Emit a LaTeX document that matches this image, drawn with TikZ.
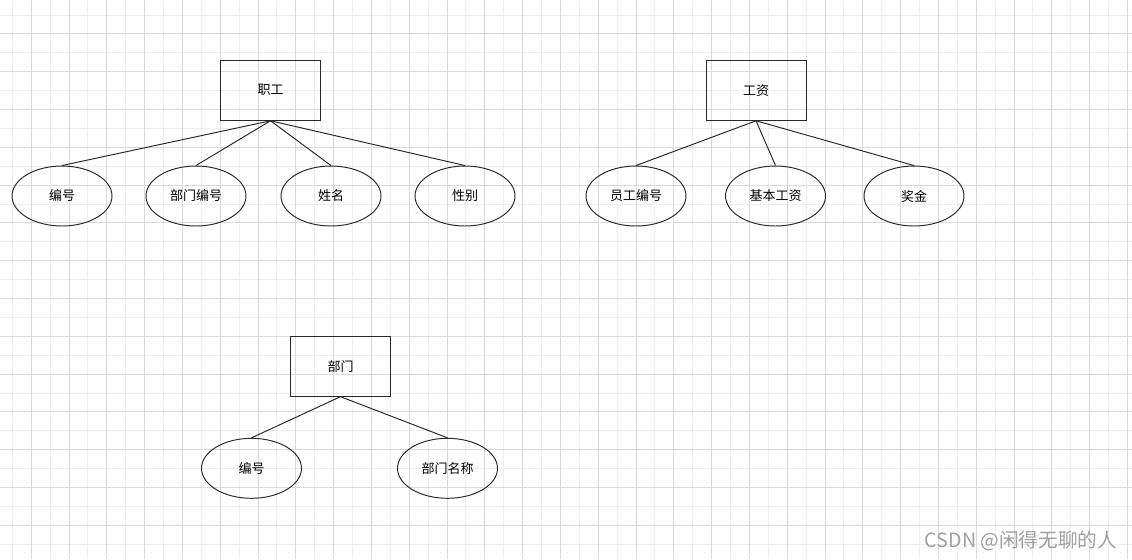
\documentclass[tikz,border=0pt]{standalone}
\usepackage{fontspec}
\usepackage{tikz}
\usetikzlibrary{shapes.geometric}
\newfontfamily\cjk{Noto Sans CJK SC}
\definecolor{gridminor}{RGB}{238,238,238}
\definecolor{gridmajor}{RGB}{218,218,218}
\definecolor{markgray}{RGB}{160,160,160}
\definecolor{inkline}{RGB}{40,40,40}

\begin{document}
\begin{tikzpicture}[x=0.02cm,y=-0.02cm,
  entity/.style={draw=inkline,rectangle,line width=0.55pt,minimum width=2cm,minimum height=1.2cm,inner sep=0pt,font=\cjk\fontsize{7.4}{9}\selectfont},
  attr/.style={draw=inkline,ellipse,line width=0.55pt,minimum width=2cm,minimum height=1.2cm,inner sep=0pt,font=\cjk\fontsize{7.4}{9}\selectfont},
  link/.style={draw=inkline,line width=0.55pt}]

\useasboundingbox[fill=white] (0,0) rectangle (1132,559);

% grid
\foreach \i in {0,2,...,58} {
  \draw[gridminor,line width=0.5pt] ({12.3+18.9*\i},0) -- ({12.3+18.9*\i},559);
}
\foreach \i in {0,2,...,28} {
  \draw[gridminor,line width=0.5pt] (0,{15+18.9*\i}) -- (1132,{15+18.9*\i});
}
\foreach \i in {1,3,...,59} {
  \draw[gridmajor,line width=0.5pt] ({12.3+18.9*\i},0) -- ({12.3+18.9*\i},559);
}
\foreach \i in {1,3,...,27} {
  \draw[gridmajor,line width=0.5pt] (0,{15+18.9*\i}) -- (1132,{15+18.9*\i});
}

\node[entity] (staff) at (270.5,90.3) {职工};
\node[attr] (staffid) at (62,196) {编号};
\node[attr] (staffdept) at (196,196) {部门编号};
\node[attr] (staffname) at (331,196) {姓名};
\node[attr] (staffsex) at (465,196) {性别};

\node[entity] (wage) at (756,90.3) {工资};
\node[attr] (wageid) at (636,196) {员工编号};
\node[attr] (wagebase) at (775.5,196) {基本工资};
\node[attr] (wagebonus) at (914,196) {奖金};

\node[entity] (dept) at (340.5,366.2) {部门};
\node[attr] (deptid) at (251.5,468.3) {编号};
\node[attr] (deptname) at (447.5,468.3) {部门名称};

\path [link] (staff.south) edge (staffid.north);
\path [link] (staff.south) edge (staffdept.north);
\path [link] (staff.south) edge (staffname.north);
\path [link] (staff.south) edge (staffsex.north);

\path [link] (wage.south) edge (wageid.north);
\path [link] (wage.south) edge (wagebase.north);
\path [link] (wage.south) edge (wagebonus.north);

\path [link] (dept.south) edge (deptid.north);
\path [link] (dept.south) edge (deptname.north);

\node[font=\cjk\fontsize{11.2}{13}\selectfont,text=markgray] (mark) at (1021,541) {CSDN @闲得无聊的人};
\end{tikzpicture}
\end{document}
